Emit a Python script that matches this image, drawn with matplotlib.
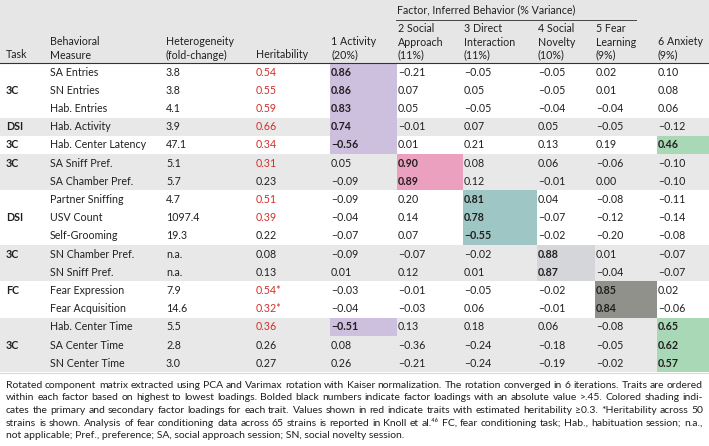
import matplotlib
matplotlib.use("Agg")
import matplotlib.pyplot as plt
from matplotlib.patches import Rectangle

plt.rcParams['font.family'] = ['Lato', 'DejaVu Sans']

# --- data
tasks = ["3C", "DSI", "3C", "3C", "DSI", "3C", "FC", "3C"]
group_sizes = [3, 1, 1, 2, 3, 2, 2, 3]

measures = ["SA Entries", "SN Entries", "Hab. Entries", "Hab. Activity",
            "Hab. Center Latency", "SA Sniff Pref.", "SA Chamber Pref.",
            "Partner Sniffing", "USV Count", "Self-Grooming",
            "SN Chamber Pref.", "SN Sniff Pref.", "Fear Expression",
            "Fear Acquisition", "Hab. Center Time", "SA Center Time",
            "SN Center Time"]
heterogeneity = ["3.8", "3.8", "4.1", "3.9", "47.1", "5.1", "5.7", "4.7",
                 "1097.4", "19.3", "n.a.", "n.a.", "7.9", "14.6", "5.5",
                 "2.8", "3.0"]
heritability = [0.54, 0.55, 0.59, 0.66, 0.34, 0.31, 0.23, 0.51, 0.39, 0.22,
                0.08, 0.13, 0.54, 0.32, 0.36, 0.26, 0.27]
herit_star = [False] * 12 + [True, True] + [False] * 3

factor_names = ["1 Activity\n(20%)", "2 Social\nApproach\n(11%)",
                "3 Direct\nInteraction\n(11%)", "4 Social\nNovelty\n(10%)",
                "5 Fear\nLearning\n(9%)", "6 Anxiety\n(9%)"]
loadings = [
    [0.86, -0.21, -0.05, -0.05, 0.02, 0.10],
    [0.86, 0.07, 0.05, -0.05, 0.01, 0.08],
    [0.83, 0.05, -0.05, -0.04, -0.04, 0.06],
    [0.74, -0.01, 0.07, 0.05, -0.05, -0.12],
    [-0.56, 0.01, 0.21, 0.13, 0.19, 0.46],
    [0.05, 0.90, 0.08, 0.06, -0.06, -0.10],
    [-0.09, 0.89, 0.12, -0.01, 0.00, -0.10],
    [-0.09, 0.20, 0.81, 0.04, -0.08, -0.11],
    [-0.04, 0.14, 0.78, -0.07, -0.12, -0.14],
    [-0.07, 0.07, -0.55, -0.02, -0.20, -0.08],
    [-0.09, -0.07, -0.02, 0.88, 0.01, -0.07],
    [0.01, 0.12, 0.01, 0.87, -0.04, -0.07],
    [-0.03, -0.01, -0.05, -0.02, 0.85, 0.02],
    [-0.04, -0.03, 0.06, -0.01, 0.84, -0.06],
    [-0.51, 0.13, 0.18, 0.06, -0.08, 0.65],
    [0.08, -0.36, -0.24, -0.18, -0.05, 0.62],
    [0.26, -0.21, -0.24, -0.19, -0.02, 0.57],
]
# shaded blocks: (factor column, first row, last row, colour)
shading = [(0, 0, 4, "#cdc0df"), (0, 14, 14, "#cdc0df"),
           (1, 5, 6, "#eba0bf"), (2, 7, 9, "#9ec6c4"),
           (3, 10, 11, "#d5d6d9"), (4, 12, 13, "#90918b"),
           (5, 4, 4, "#a8d8b5"), (5, 14, 16, "#a8d8b5")]

caption_lines = [
    "Rotated component matrix extracted using PCA and Varimax rotation with Kaiser normalization. The rotation converged in 6 iterations. Traits are ordered",
    "within each factor based on highest to lowest loadings. Bolded black numbers indicate factor loadings with an absolute value >.45. Colored shading indi-",
    "cates the primary and secondary factor loadings for each trait. Values shown in red indicate traits with estimated heritability \u22650.3. *Heritability across 50",
    "strains is shown. Analysis of fear conditioning data across 65 strains is reported in Knoll et al.\u2074\u2076 FC, fear conditioning task; Hab., habituation session; n.a.,",
    "not applicable; Pref., preference; SA, social approach session; SN, social novelty session.",
]

# --- layout (pixel coords)
W, H = 709, 446
top = 63
rh = 18.2
xcol = [6, 50, 166, 256]
xfac = [330, 397, 463, 537, 595, 657, 709]
ink = "#231f20"
red = "#d0302c"
fs = 7.7

fig = plt.figure(figsize=(W / 100, H / 100), dpi=100)
ax = fig.add_axes([0, 0, 1, 1])
ax.set_xlim(0, W)
ax.set_ylim(H, 0)
ax.axis("off")

def fmt(v):
    s = f"{v:.2f}"
    return s.replace("-", "\u2212")

# header band
ax.add_patch(Rectangle((0, 0), W, top, color="#e6e6e6", lw=0))
ax.plot([396, 636], [19.5, 19.5], color="#444444", lw=0.7)
ax.plot([0, W], [top, top], color="#333333", lw=0.8)
ax.text(397, 9.5, "Factor, Inferred Behavior (% Variance)", fontsize=fs,
        color=ink, va="center")
ax.text(xcol[0], 55, "Task", fontsize=fs, color=ink, va="center")
ax.text(xcol[1], 48.5, "Behavioral\nMeasure", fontsize=fs, color=ink,
        va="center", linespacing=1.25)
ax.text(xcol[2], 48.5, "Heterogeneity\n(fold-change)", fontsize=fs, color=ink,
        va="center", linespacing=1.25)
ax.text(xcol[3], 55, "Heritability", fontsize=fs, color=ink, va="center")
for j, name in enumerate(factor_names):
    n = name.count("\n") + 1
    yc = 55 - (n - 1) * 13 / 2
    ax.text(xfac[j] + 1, yc, name, fontsize=fs, color=ink, va="center",
            linespacing=1.25)

# row groups
r0 = 0
for g, (task, n) in enumerate(zip(tasks, group_sizes)):
    if g % 2 == 1:
        ax.add_patch(Rectangle((0, top + r0 * rh), W, n * rh,
                               color="#e8e8e8", lw=0))
    ax.text(xcol[0], top + (r0 + (n - 1) // 2 + 0.5) * rh, task, fontsize=fs,
            fontweight="bold", color=ink, va="center")
    r0 += n

for col, ra, rb, c in shading:
    ax.add_patch(Rectangle((xfac[col], top + ra * rh), xfac[col + 1] - xfac[col],
                           (rb - ra + 1) * rh, color=c, lw=0))

for i in range(len(measures)):
    y = top + (i + 0.5) * rh
    ax.text(xcol[1], y, measures[i], fontsize=fs, color=ink, va="center")
    ax.text(xcol[2], y, heterogeneity[i], fontsize=fs, color=ink, va="center")
    hs = fmt(heritability[i]) + ("*" if herit_star[i] else "")
    ax.text(xcol[3], y, hs, fontsize=fs, va="center",
            color=red if heritability[i] >= 0.3 else ink)
    for j, v in enumerate(loadings[i]):
        ax.text(xfac[j] + 1, y, fmt(v), fontsize=fs, va="center", color=ink,
                fontweight="bold" if abs(v) > 0.45 else "normal")

ax.plot([0, W], [top + 17 * rh + 1, top + 17 * rh + 1], color="#d0d0d0", lw=0.6)

# caption, justified
renderer = fig.canvas.get_renderer()
cfs = 7.5
cy = [385, 398, 410.5, 423, 435.5]
x0, x1 = 6, 703
for k, line in enumerate(caption_lines):
    if k == len(caption_lines) - 1:
        ax.text(x0, cy[k], line, fontsize=cfs, color=ink, va="center")
        continue
    words = line.split(" ")
    ws = []
    for w in words:
        t = ax.text(0, 0, w, fontsize=cfs)
        ws.append(t.get_window_extent(renderer).width)
        t.remove()
    gap = (x1 - x0 - sum(ws)) / (len(words) - 1)
    x = x0
    for w, wd in zip(words, ws):
        ax.text(x, cy[k], w, fontsize=cfs, color=ink, va="center")
        x += wd + gap

fig.savefig("out.png", dpi=100)
